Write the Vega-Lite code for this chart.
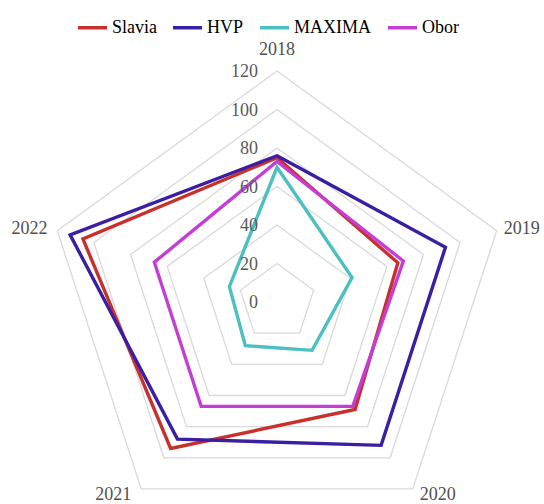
{
  "$schema": "https://vega.github.io/schema/vega-lite/v6.json",
  "width": 544,
  "height": 504,
  "autosize": "none",
  "padding": 0,
  "background": "white",
  "config": {"view": {"stroke": null}},
  "datasets": {
    "scores": [
      {"company": "Slavia", "year": "2018", "value": 75},
      {"company": "Slavia", "year": "2019", "value": 66},
      {"company": "Slavia", "year": "2020", "value": 69},
      {"company": "Slavia", "year": "2021", "value": 94},
      {"company": "Slavia", "year": "2022", "value": 106},
      {"company": "HVP", "year": "2018", "value": 76},
      {"company": "HVP", "year": "2019", "value": 92},
      {"company": "HVP", "year": "2020", "value": 92},
      {"company": "HVP", "year": "2021", "value": 88},
      {"company": "HVP", "year": "2022", "value": 113},
      {"company": "MAXIMA", "year": "2018", "value": 70},
      {"company": "MAXIMA", "year": "2019", "value": 41},
      {"company": "MAXIMA", "year": "2020", "value": 31},
      {"company": "MAXIMA", "year": "2021", "value": 28},
      {"company": "MAXIMA", "year": "2022", "value": 26},
      {"company": "Obor", "year": "2018", "value": 73},
      {"company": "Obor", "year": "2019", "value": 69},
      {"company": "Obor", "year": "2020", "value": 67},
      {"company": "Obor", "year": "2021", "value": 67},
      {"company": "Obor", "year": "2022", "value": 67}
    ],
    "levels": [
      {"level": 0}, {"level": 20}, {"level": 40}, {"level": 60},
      {"level": 80}, {"level": 100}, {"level": 120}
    ],
    "cats": [
      {"year": "2018"}, {"year": "2019"}, {"year": "2020"}, {"year": "2021"}, {"year": "2022"}
    ]
  },
  "encoding": {
    "x": {"field": "px", "type": "quantitative", "scale": {"domain": [-143.9, 138.7], "nice": false, "zero": false}, "axis": null},
    "y": {"field": "py", "type": "quantitative", "scale": {"domain": [-104.9, 156.9], "nice": false, "zero": false}, "axis": null}
  },
  "layer": [
    {
      "data": {"name": "levels"},
      "transform": [
        {"filter": "datum.level > 0"},
        {"calculate": "[0,1,2,3,4]", "as": "k"},
        {"flatten": ["k"]},
        {"calculate": "datum.k*2*PI/5", "as": "ang"},
        {"calculate": "datum.level*sin(datum.ang)", "as": "px"},
        {"calculate": "datum.level*cos(datum.ang)", "as": "py"}
      ],
      "mark": {"type": "line", "interpolate": "linear-closed", "stroke": "#d9d9d9", "strokeWidth": 1.3},
      "encoding": {
        "detail": {"field": "level", "type": "nominal"},
        "order": {"field": "k", "type": "quantitative"}
      }
    },
    {
      "data": {"name": "scores"},
      "transform": [
        {"calculate": "indexof(['2018','2019','2020','2021','2022'], datum.year)", "as": "k"},
        {"calculate": "datum.k*2*PI/5", "as": "ang"},
        {"calculate": "datum.value*sin(datum.ang)", "as": "px"},
        {"calculate": "datum.value*cos(datum.ang)", "as": "py"}
      ],
      "mark": {"type": "line", "interpolate": "linear-closed", "strokeWidth": 3.4},
      "encoding": {
        "color": {
          "field": "company",
          "type": "nominal",
          "scale": {"domain": ["Slavia", "HVP", "MAXIMA", "Obor"], "range": ["#c8312b", "#3a1ea3", "#4cbfc2", "#c43ed6"]},
          "legend": {
            "title": null,
            "orient": "none",
            "legendX": 76,
            "legendY": 11,
            "direction": "horizontal",
            "symbolType": "stroke",
            "symbolSize": 840,
            "symbolStrokeWidth": 3.5,
            "labelFont": "Liberation Serif",
            "labelFontSize": 18,
            "labelFontWeight": "normal",
            "labelOffset": 3,
            "columnPadding": 9,
            "encoding": {"labels": {"update": {"fill": {"scale": "color", "field": "value"}}}}
          }
        },
        "order": {"field": "k", "type": "quantitative"}
      }
    },
    {
      "data": {"name": "levels"},
      "transform": [
        {"calculate": "0", "as": "px"},
        {"calculate": "datum.level", "as": "py"}
      ],
      "mark": {"type": "text", "align": "right", "baseline": "middle", "dx": -19, "dy": 1, "font": "Liberation Serif", "fontSize": 18, "fill": "#595959"},
      "encoding": {"text": {"field": "level", "type": "quantitative"}}
    },
    {
      "data": {"name": "cats"},
      "transform": [
        {"calculate": "indexof(['2018','2019','2020','2021','2022'], datum.year)", "as": "k"},
        {"calculate": "datum.k*2*PI/5", "as": "ang"},
        {"calculate": "120*sin(datum.ang) + (datum.k == 0 ? 0 : (sin(datum.ang) > 0 ? 13 : -14.5))", "as": "px"},
        {"calculate": "120*cos(datum.ang) + (datum.k == 0 ? 11 : (cos(datum.ang) < 0 ? -3 : 1))", "as": "py"}
      ],
      "mark": {"type": "text", "align": "center", "baseline": "middle", "font": "Liberation Serif", "fontSize": 18, "fill": "#505050"},
      "encoding": {"text": {"field": "year", "type": "nominal"}}
    }
  ]
}
